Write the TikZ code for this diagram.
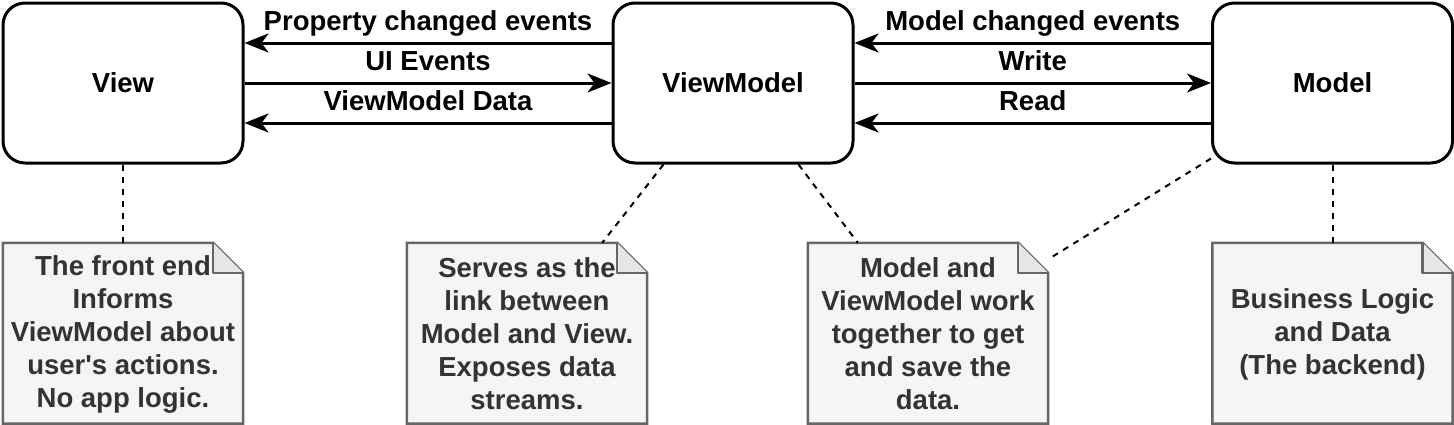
\documentclass[tikz,border=0pt]{standalone}
\usepackage{fontspec}
\setmainfont{Liberation Sans}
\usetikzlibrary{arrows.meta}
\definecolor{notefill}{HTML}{F5F5F5}
\definecolor{noteline}{HTML}{666666}
\definecolor{notetext}{HTML}{333333}
\definecolor{foldfill}{HTML}{E6E6E6}
\pgfdeclarelayer{bg}
\pgfsetlayers{bg,main}
\begin{document}
\begin{tikzpicture}[x=1pt,y=-1pt,
  txt/.style={font=\bfseries\fontsize{27.5}{33}\selectfont},
  box/.style={txt, draw, line width=3pt, rounded corners=22pt, fill=white,
    minimum width=240pt, minimum height=160pt, inner sep=0pt},
  note/.style={txt, minimum width=240pt, minimum height=179pt, inner sep=0pt,
    align=center, text=notetext},
  lbl/.style={txt, anchor=base, inner sep=0pt, yshift=13pt},
  arr/.style={line width=3pt, -{Stealth[length=24pt,width=19pt,inset=7pt]}},
  dashln/.style={line width=2pt, dash pattern=on 6pt off 6pt},
  noteshape/.style={draw=noteline, line width=2.5pt},
]
\useasboundingbox (0,0) rectangle (1454,424);

\node[box] (view) at (123,83) {View};
\node[box] (vm) at (733,83) {ViewModel};
\node[box] (model) at (1332.5,83) {Model};

\node[note] (n1) at (123,334) {The front end\\Informs\\ViewModel about\\user\textquotesingle s actions.\\No app logic.};
\node[note] (n2) at (527,334) {Serves as the\\link between\\Model and View.\\Exposes data\\streams.};
\node[note] (n3) at (928,334) {Model and\\ViewModel work\\together to get\\and save the\\data.};
\node[note] (n4) at (1332.5,334) {Business Logic\\and Data\\(The backend)};

% arrows View <-> ViewModel
\draw[arr] ([yshift=40pt]vm.west) -- node[lbl] (l1) {Property changed events} ([yshift=40pt]view.east);
\draw[arr] (view.east) -- node[lbl] (l2) {UI Events} (vm.west);
\draw[arr] ([yshift=-40pt]vm.west) -- node[lbl] (l3) {ViewModel Data} ([yshift=-40pt]view.east);

% arrows ViewModel <-> Model
\draw[arr] ([yshift=40pt]model.west) -- node[lbl] (l4) {Model changed events} ([yshift=40pt]vm.east);
\draw[arr] (vm.east) -- node[lbl] (l5) {Write} (model.west);
\draw[arr] ([yshift=-40pt]model.west) -- node[lbl] (l6) {Read} ([yshift=-40pt]vm.east);

\begin{pgfonlayer}{bg}
  \foreach \n in {n1,n2,n3,n4} {
    \draw[noteshape, fill=notefill] ([yshift=1.5pt]\n.north west) -- ([xshift=-30pt,yshift=1.5pt]\n.north east)
      -- ([yshift=-28.5pt]\n.north east) -- (\n.south east) -- (\n.south west) -- cycle;
    \draw[noteshape, fill=foldfill, line join=round] ([xshift=-30pt,yshift=1.5pt]\n.north east)
      -- ([xshift=-30pt,yshift=-28.5pt]\n.north east) -- ([yshift=-28.5pt]\n.north east);
  }
  \draw[dashln] (view.south) -- ([yshift=1.5pt]n1.north);
  \draw[dashln] ([xshift=52pt]vm.south west) -- ([xshift=-45pt,yshift=1.5pt]n2.north east);
  \draw[dashln] ([xshift=-56pt]vm.south east) -- ([xshift=50pt,yshift=1.5pt]n3.north west);
  \draw[dashln] ([yshift=6pt]model.south west) -- ([yshift=-15pt]n3.north east);
  \draw[dashln] (model.south) -- ([yshift=1.5pt]n4.north);
\end{pgfonlayer}
\end{tikzpicture}
\end{document}
